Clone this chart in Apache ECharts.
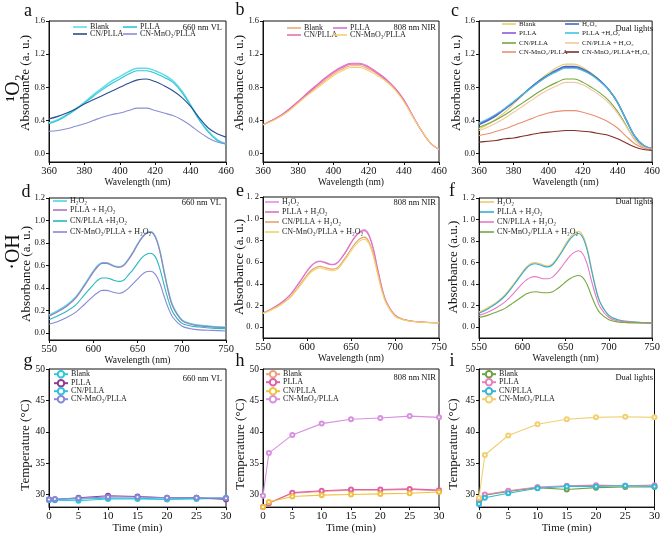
<!DOCTYPE html>
<html><head><meta charset="utf-8">
<script src="https://cdn.jsdelivr.net/npm/echarts@6/dist/echarts.min.js"></script>
<style>html,body{margin:0;padding:0;background:#fff}#c{width:663px;height:535px}</style>
</head><body><div id="c"></div>
<script>
// ---------- DATA ----------
const wl1 = [360,365,370,375,380,385,390,395,400,405,410,415,420,425,430,435,440,445,450,455,460];
const wl2 = [550,560,570,580,590,600,605,610,615,620,625,630,635,640,645,650,655,660,665,670,675,680,685,690,700,710,720,735,750];
const timeMin = [0,1,5,10,15,20,25,30];

const yTicks1 = [0,0.4,0.8,1.2,1.6];
const yTicks2 = [0,0.2,0.4,0.6,0.8,1.0,1.2];
const yTicks3 = [30,35,40,45,50];

// panel a (1O2, 660 nm VL)
const aBlank = [0.37,0.41,0.47,0.54,0.62,0.71,0.79,0.87,0.93,0.99,1.03,1.03,1.00,0.95,0.88,0.76,0.59,0.41,0.27,0.17,0.12];
const aPLLA  = [0.36,0.40,0.46,0.53,0.61,0.69,0.77,0.84,0.90,0.96,1.00,1.00,0.97,0.92,0.86,0.74,0.58,0.40,0.26,0.16,0.11];
const aCN    = [0.42,0.45,0.49,0.54,0.60,0.65,0.70,0.75,0.80,0.85,0.89,0.90,0.87,0.82,0.76,0.68,0.57,0.43,0.31,0.24,0.20];
const aCNMn  = [0.27,0.28,0.30,0.33,0.36,0.40,0.44,0.47,0.49,0.52,0.55,0.55,0.52,0.49,0.46,0.41,0.34,0.26,0.19,0.14,0.12];
// panel b (808 nm NIR)
const bBlank = [0.35,0.40,0.45,0.53,0.62,0.71,0.80,0.88,0.96,1.02,1.06,1.06,1.02,0.96,0.88,0.78,0.64,0.45,0.28,0.13,0.05];
const bPLLA  = [0.35,0.40,0.46,0.54,0.63,0.73,0.82,0.91,0.99,1.05,1.09,1.09,1.05,0.98,0.90,0.79,0.65,0.46,0.28,0.13,0.05];
const bCN    = [0.35,0.40,0.46,0.54,0.63,0.72,0.81,0.90,0.98,1.04,1.08,1.08,1.04,0.97,0.89,0.79,0.65,0.46,0.28,0.13,0.05];
const bCNMn  = [0.35,0.39,0.45,0.52,0.61,0.70,0.78,0.86,0.94,1.00,1.04,1.04,1.00,0.94,0.87,0.77,0.63,0.45,0.28,0.13,0.05];
// panel c (dual lights)
const cBlank   = [0.30,0.35,0.42,0.50,0.60,0.70,0.80,0.89,0.97,1.04,1.08,1.08,1.04,0.97,0.88,0.77,0.61,0.40,0.20,0.09,0.05];
const cH2O2    = [0.35,0.40,0.46,0.54,0.62,0.71,0.80,0.88,0.95,1.01,1.05,1.05,1.02,0.96,0.88,0.77,0.62,0.41,0.21,0.10,0.06];
const cPLLA    = [0.36,0.41,0.47,0.54,0.62,0.71,0.79,0.87,0.94,1.00,1.04,1.04,1.01,0.95,0.87,0.77,0.62,0.41,0.21,0.10,0.06];
const cPLLAH   = [0.37,0.42,0.48,0.55,0.63,0.71,0.79,0.87,0.94,0.99,1.03,1.03,1.00,0.95,0.87,0.77,0.62,0.41,0.21,0.10,0.06];
const cCN      = [0.32,0.36,0.41,0.47,0.54,0.61,0.68,0.75,0.81,0.86,0.90,0.90,0.86,0.80,0.73,0.64,0.51,0.34,0.17,0.08,0.05];
const cCNH     = [0.28,0.32,0.37,0.43,0.50,0.57,0.64,0.71,0.77,0.82,0.86,0.86,0.83,0.77,0.70,0.61,0.49,0.33,0.17,0.08,0.05];
const cCNMn    = [0.22,0.24,0.27,0.30,0.34,0.38,0.42,0.46,0.49,0.51,0.52,0.52,0.50,0.47,0.43,0.38,0.31,0.21,0.12,0.07,0.05];
const cCNMnH   = [0.14,0.15,0.16,0.18,0.19,0.21,0.23,0.25,0.26,0.27,0.28,0.28,0.27,0.26,0.24,0.22,0.18,0.13,0.08,0.05,0.04];
// panel d (·OH, 660 nm VL)
const dH2O2  = [0.16,0.20,0.25,0.32,0.43,0.55,0.60,0.625,0.625,0.61,0.595,0.59,0.61,0.66,0.72,0.79,0.85,0.89,0.90,0.86,0.74,0.55,0.37,0.24,0.12,0.085,0.07,0.06,0.055];
const dPLLAH = [0.15,0.19,0.24,0.31,0.42,0.54,0.59,0.62,0.62,0.605,0.59,0.585,0.605,0.655,0.715,0.785,0.845,0.885,0.895,0.855,0.735,0.545,0.365,0.235,0.115,0.08,0.065,0.055,0.05];
const dCNH   = [0.12,0.155,0.195,0.25,0.34,0.43,0.47,0.49,0.49,0.48,0.465,0.46,0.475,0.52,0.565,0.62,0.67,0.70,0.71,0.68,0.58,0.43,0.29,0.185,0.09,0.065,0.055,0.045,0.04];
const dCNMnH = [0.08,0.105,0.14,0.185,0.255,0.33,0.36,0.38,0.38,0.37,0.36,0.355,0.37,0.40,0.44,0.48,0.52,0.545,0.55,0.525,0.45,0.33,0.22,0.14,0.065,0.04,0.03,0.025,0.02];
// panel e (808 nm NIR)
const eH2O2  = [0.13,0.17,0.22,0.29,0.40,0.52,0.57,0.60,0.61,0.60,0.585,0.58,0.60,0.65,0.71,0.78,0.84,0.88,0.90,0.86,0.74,0.55,0.37,0.24,0.11,0.07,0.055,0.045,0.04];
const ePLLAH = [0.13,0.17,0.22,0.29,0.395,0.515,0.565,0.595,0.605,0.595,0.58,0.575,0.595,0.645,0.705,0.775,0.835,0.875,0.89,0.85,0.73,0.545,0.365,0.235,0.11,0.07,0.055,0.045,0.04];
const eCNH   = [0.13,0.165,0.21,0.27,0.37,0.48,0.525,0.55,0.56,0.55,0.54,0.535,0.55,0.60,0.655,0.72,0.775,0.815,0.83,0.795,0.685,0.51,0.345,0.225,0.105,0.068,0.053,0.044,0.04];
const eCNMnH = [0.125,0.16,0.205,0.265,0.36,0.465,0.51,0.535,0.545,0.535,0.525,0.52,0.535,0.585,0.64,0.70,0.755,0.795,0.81,0.775,0.665,0.50,0.335,0.22,0.10,0.066,0.052,0.043,0.04];
// panel f (dual lights)
const fH2O2  = [0.14,0.18,0.23,0.30,0.40,0.51,0.56,0.59,0.60,0.59,0.575,0.57,0.59,0.64,0.70,0.77,0.83,0.87,0.89,0.85,0.73,0.54,0.36,0.23,0.11,0.07,0.055,0.045,0.04];
const fPLLAH = [0.13,0.17,0.22,0.29,0.39,0.50,0.55,0.58,0.59,0.58,0.565,0.56,0.58,0.63,0.69,0.755,0.815,0.855,0.87,0.83,0.715,0.53,0.355,0.23,0.11,0.07,0.055,0.045,0.04];
const fCNH   = [0.11,0.14,0.18,0.235,0.315,0.405,0.44,0.465,0.47,0.46,0.45,0.45,0.465,0.505,0.555,0.61,0.66,0.695,0.71,0.68,0.585,0.43,0.29,0.185,0.09,0.06,0.05,0.042,0.04];
const fCNMnH = [0.09,0.11,0.14,0.175,0.23,0.285,0.31,0.325,0.33,0.325,0.32,0.32,0.33,0.355,0.385,0.42,0.45,0.472,0.48,0.46,0.395,0.29,0.195,0.13,0.07,0.05,0.043,0.04,0.038];
// panel g (temperature, 660 nm VL)
const gBlank = [29.2,29.1,29.0,29.3,29.3,29.2,29.3,29.4];
const gPLLA  = [29.2,29.2,29.5,29.8,29.7,29.5,29.5,29.2];
const gCN    = [29.1,29.2,29.3,29.4,29.4,29.3,29.4,29.5];
const gCNMn  = [29.2,29.3,29.4,29.6,29.6,29.5,29.5,29.4];
// panel h (808 nm NIR)
const hBlank = [28.0,28.7,30.2,30.5,30.7,30.7,30.8,30.6];
const hPLLA  = [28.0,28.6,30.3,30.6,30.8,30.8,30.9,30.7];
const hCN    = [28.0,28.8,29.7,29.9,30.0,30.1,30.2,30.4];
const hCNMn  = [29.8,36.6,39.5,41.3,42.0,42.2,42.5,42.3];
// panel i (dual lights)
const iBlank = [29.0,29.9,30.5,31.1,30.8,31.1,31.2,31.2];
const iPLLA  = [29.3,30.0,30.6,31.2,31.4,31.5,31.4,31.5];
const iCN    = [28.5,29.5,30.2,31.0,31.3,31.3,31.4,31.3];
const iCNMn  = [29.5,36.3,39.4,41.2,42.0,42.3,42.4,42.3];

// ---------- BUILD ----------
const SERIF = '"Liberation Serif","Times New Roman","DejaVu Serif",serif';
const strip = n => n.replace(/\u200b/g, '');
let uid = 0;
const uname = n => n + '\u200b'.repeat(++uid);

const grids = [
  {left:49,  top:21,  right:226, bottom:162},
  {left:263, top:21,  right:439, bottom:162},
  {left:479, top:21,  right:659, bottom:162},
  {left:49,  top:198, right:226, bottom:340},
  {left:263, top:197, right:439, bottom:338},
  {left:479, top:198, right:659, bottom:338},
  {left:49,  top:369, right:226, bottom:510},
  {left:263, top:369, right:439, bottom:510},
  {left:479, top:369, right:659, bottom:510}
];
const grid = grids.map(g => ({left:g.left, top:g.top, width:g.right-g.left, height:g.bottom-g.top,
  show:true, borderColor:'#111', borderWidth:1, backgroundColor:'transparent', containLabel:false}));

function xAx(gi, min, max, interval, name, fs) {
  return {type:'value', gridIndex:gi, min, max, interval,
    name, nameLocation:'middle', nameGap: gi>=6 ? 10 : (gi>=3 ? 7 : 8),
    nameTextStyle:{fontFamily:SERIF, fontSize: gi>=6 ? 11 : 9.5, color:'#111'},
    axisLine:{show:true, onZero:false, lineStyle:{color:'#111', width:1}},
    axisTick:{show:true, length:3, inside:false, lineStyle:{color:'#111'}},
    axisLabel:{fontFamily:SERIF, fontSize:fs, color:'#111', margin:4},
    splitLine:{show:false}};
}
function yAx(gi, min, max, ticks, fs, fmt) {
  return {type:'value', gridIndex:gi, min, max,
    axisLine:{show:true, onZero:false, lineStyle:{color:'#111', width:1}},
    axisTick:{show:true, length:3, customValues:ticks, lineStyle:{color:'#111'}},
    axisLabel:{fontFamily:SERIF, fontSize:fs, color:'#111', margin:4, customValues:ticks, formatter:fmt},
    splitLine:{show:false}};
}
const f1 = v => v.toFixed(1);
const f1s = v => v.toFixed(1).replace('.', '. ');
const f0 = v => String(v);

const xAxis = [
  xAx(0,360,460,20,'Wavelength (nm)',10.5), xAx(1,360,460,20,'Wavelength (nm)',10.5), xAx(2,360,460,20,'Wavelength (nm)',10.5),
  xAx(3,550,750,50,'Wavelength (nm)',10.5), xAx(4,550,750,50,'Wavelength (nm)',10.5), xAx(5,550,750,50,'Wavelength (nm)',10.5),
  xAx(6,0,30,5,'Time (min)',11), xAx(7,0,30,5,'Time (min)',11), xAx(8,0,30,5,'Time (min)',11)
];
const yAxis = [
  yAx(0,-0.1,1.6,yTicks1,8.5,f1),
  yAx(1,-0.1,1.6,yTicks1,8.5,f1),
  yAx(2,-0.1,1.6,yTicks1,8.5,f1),
  yAx(3,-0.06,1.2,yTicks2,8.5,f1),
  yAx(4,-0.1,1.2,yTicks2,8.5,f1s),
  yAx(5,-0.1,1.2,yTicks2,8.5,f1s),
  yAx(6,28,50,yTicks3,9.5,f0),
  yAx(7,28,50,yTicks3,9.5,f0),
  yAx(8,28,50,yTicks3,9.5,f0)
];

const series = [];
const legend = [];
function addLegend(name, x, y, isSpec, fs) {
  const l = {left:x, top:y-4, data:[name], orient:'horizontal', padding:0, itemGap:0,
    itemWidth:14, itemHeight:8, selectedMode:false, formatter:strip,
    textStyle:{fontFamily:SERIF, fontSize:fs||8, color:'#222', lineHeight:8, padding:[0,0,0,-2]}};
  if (isSpec) { l.icon = 'rect'; l.itemHeight = 1.6; }
  legend.push(l);
}
function spec(gi, label, xs, ys, color, lx, ly, w, fs) {
  const name = uname(label);
  series.push({type:'line', name, xAxisIndex:gi, yAxisIndex:gi,
    data: xs.map((x,i)=>[x, ys[i]]), smooth:0.35, symbol:'none',
    lineStyle:{color, width:w||1.1}, itemStyle:{color}, emphasis:{disabled:true}, animation:false});
  addLegend(name, lx, ly, true, fs);
}
function temp(gi, label, ys, color, lx, ly) {
  const name = uname(label);
  series.push({type:'line', name, xAxisIndex:gi, yAxisIndex:gi,
    data: timeMin.map((x,i)=>[x, ys[i]]), smooth:false, symbol:'emptyCircle', symbolSize:4, showSymbol:true,
    lineStyle:{color, width:1.1}, itemStyle:{color, borderWidth:1}, emphasis:{disabled:true}, animation:false});
  addLegend(name, lx, ly, false);
}

// a
spec(0,'Blank',wl1,aBlank,'#62dbe6',73,27,1.5);
spec(0,'PLLA',wl1,aPLLA,'#2ec5d6',123,27);
spec(0,'CN/PLLA',wl1,aCN,'#2b4f8f',73,34);
spec(0,'CN-MnO₂/PLLA',wl1,aCNMn,'#8a8fd4',123,34);
// b
spec(1,'Blank',wl1,bBlank,'#f0a878',287,28);
spec(1,'PLLA',wl1,bPLLA,'#d870d8',333,28);
spec(1,'CN/PLLA',wl1,bCN,'#e870b0',287,35);
spec(1,'CN-MnO₂/PLLA',wl1,bCNMn,'#f5d070',333,35);
// c
spec(2,'Blank',wl1,cBlank,'#e8d068',502,24,1.1,7);
spec(2,'H₂O₂',wl1,cH2O2,'#3a6cc0',565,24,1.5,7);
spec(2,'PLLA',wl1,cPLLA,'#8a5ad8',502,33,1.1,7);
spec(2,'PLLA +H₂O₂',wl1,cPLLAH,'#3cc4e0',565,33,1.1,7);
spec(2,'CN/PLLA',wl1,cCN,'#74a840',502,43,1.1,7);
spec(2,'CN/PLLA + H₂O₂',wl1,cCNH,'#f2c8a0',565,43,1.1,7);
spec(2,'CN-MnO₂/PLLA',wl1,cCNMn,'#e89070',502,52,1.1,7);
spec(2,'CN-MnO₂/PLLA+H₂O₂',wl1,cCNMnH,'#803028',565,52,1.1,7);
// d
spec(3,'H₂O₂',wl2,dH2O2,'#4cd6e0',53,201,1.5);
spec(3,'PLLA + H₂O₂',wl2,dPLLAH,'#a878b8',53,210);
spec(3,'CN/PLLA +H₂O₂',wl2,dCNH,'#28b8c0',53,221);
spec(3,'CN-MnO₂/PLLA + H₂O₂',wl2,dCNMnH,'#8888d8',53,232);
// e
spec(4,'H₂O₂',wl2,eH2O2,'#e090e0',265,202);
spec(4,'PLLA + H₂O₂',wl2,ePLLAH,'#e070c0',265,212);
spec(4,'CN/PLLA + H₂O₂',wl2,eCNH,'#eaa070',265,222);
spec(4,'CN-MnO₂/PLLA + H₂O₂',wl2,eCNMnH,'#f2d468',265,232);
// f
spec(5,'H₂O₂',wl2,fH2O2,'#f2c868',480,202,1.4);
spec(5,'PLLA + H₂O₂',wl2,fPLLAH,'#30b0d8',480,212);
spec(5,'CN/PLLA + H₂O₂',wl2,fCNH,'#e878c8',480,222);
spec(5,'CN-MnO₂/PLLA + H₂O₂',wl2,fCNMnH,'#78a840',480,232);
// g
temp(6,'Blank',gBlank,'#30c8d8',53,374);
temp(6,'PLLA',gPLLA,'#903c90',53,383);
temp(6,'CN/PLLA',gCN,'#30c0e0',53,391);
temp(6,'CN-MnO₂/PLLA',gCNMn,'#8888d8',53,399);
// h
temp(7,'Blank',hBlank,'#eca080',265,374);
temp(7,'PLLA',hPLLA,'#e060a8',265,382);
temp(7,'CN/PLLA',hCN,'#f0c040',265,391);
temp(7,'CN-MnO₂/PLLA',hCNMn,'#d890e0',265,399);
// i
temp(8,'Blank',iBlank,'#70a040',481,374);
temp(8,'PLLA',iPLLA,'#e880c0',481,382);
temp(8,'CN/PLLA',iCN,'#30b8d8',481,391);
temp(8,'CN-MnO₂/PLLA',iCNMn,'#f0d070',481,399);

// ---------- TEXT ----------
const txt = (text, x, y, size, align, rot) => ({type:'text', x, y, rotation:rot||0,
  style:{text, fontFamily:SERIF, fontSize:size, fill:'#111', align:align||'center', verticalAlign:'middle'}});
const R = Math.PI/2;
const graphic = [
  txt('a',28,11,18), txt('b',240,10,18), txt('c',455,11,18),
  txt('d',26,192,18), txt('e',240,191,18), txt('f',452,191,18),
  txt('g',28,361,18), txt('h',240,361,18), txt('i',452,361,18),
  txt('¹O₂',14,88,20,'center',R),
  txt('·OH',14,252,20,'center',R),
  txt('Absorbance (a. u.)',26,83,13,'center',R),
  txt('Absorbance (a. u.)',240,83,13,'center',R),
  txt('Absorbance (a. u.)',457,83,13,'center',R),
  txt('Absorbance (a. u.)',27,274,13,'center',R),
  txt('Absorbance (a. u.)',240,267,13,'center',R),
  txt('Absorbance (a.u.)',454,267,13,'center',R),
  txt('Temperature (°C)',26,445,13,'center',R),
  txt('Temperature (°C)',241,444,13,'center',R),
  txt('Temperature (°C)',454,444,13,'center',R),
  txt('660 nm VL',222,28,8.5,'right'), txt('808 nm NIR',436,28,8.5,'right'), txt('Dual lights',653,29,8.5,'right'),
  txt('660 nm VL',221,203,8.5,'right'), txt('808 nm NIR',436,203,8.5,'right'), txt('Dual lights',653,202,8.5,'right'),
  txt('660 nm VL',222,379,8.5,'right'), txt('808 nm NIR',436,378,8.5,'right'), txt('Dual lights',653,378,8.5,'right')
];

const chart = echarts.init(document.getElementById('c'), null, {renderer:'canvas'});
chart.setOption({animation:false, backgroundColor:'#fff', grid, xAxis, yAxis, series, legend, graphic});
</script>
</body></html>
